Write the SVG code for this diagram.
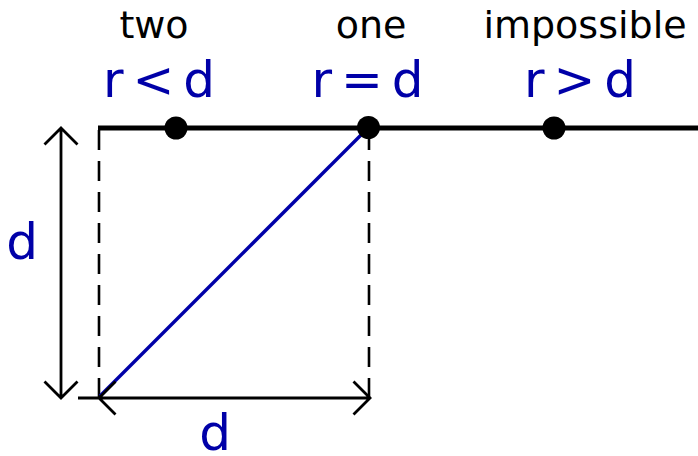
<svg xmlns="http://www.w3.org/2000/svg" width="698" height="456" viewBox="0 0 698 456">
<style>
.lbl{font-family:"DejaVu Sans",sans-serif;font-size:38px;fill:#000;text-anchor:middle}
.rel{font-family:"DejaVu Sans",sans-serif;font-size:50px;fill:#0000a8;text-anchor:middle;word-spacing:-7px}
.dim{font-family:"DejaVu Sans",sans-serif;font-size:50px;fill:#0000a8;text-anchor:middle}
.dash{stroke:#000;stroke-width:2.6;stroke-dasharray:20 11;fill:none}
.arr{stroke:#000;stroke-width:2.8;fill:none}
</style>
<rect width="698" height="456" fill="#fff"/>
<g id="connectors">
<path d="M98 128 H698" stroke="#000" stroke-width="5" fill="none"/>
<path class="dash" d="M99 130 V398"/>
<path class="dash" d="M369 130 V398"/>
<path d="M100 396 L368 128" stroke="#0000a8" stroke-width="3.4" fill="none"/>
<path class="arr" d="M61 128 V398 M44.5 144.5 L61 128 L77.5 144.5 M44.5 381.5 L61 398 L77.5 381.5"/>
<path class="arr" d="M78 398 H370 M115.5 381.5 L99 398 L115.5 414.5 M353.5 381.5 L370 398 L353.5 414.5"/>
</g>
<g id="node-two">
<circle cx="176" cy="128" r="11.5" fill="#000"/>
<text class="lbl" x="154" y="38">two</text>
<text class="rel" x="159" y="97">r &lt; d</text>
</g>
<g id="node-one">
<circle cx="368.5" cy="127.5" r="11.5" fill="#000"/>
<text class="lbl" x="371" y="38">one</text>
<text class="rel" x="367.5" y="97">r = d</text>
</g>
<g id="node-impossible">
<circle cx="554" cy="128" r="11.5" fill="#000"/>
<text class="lbl" x="585" y="38">impossible</text>
<text class="rel" x="580" y="97">r &gt; d</text>
</g>
<g id="dim-labels">
<text class="dim" x="22" y="259">d</text>
<text class="dim" x="215" y="450">d</text>
</g>
</svg>
